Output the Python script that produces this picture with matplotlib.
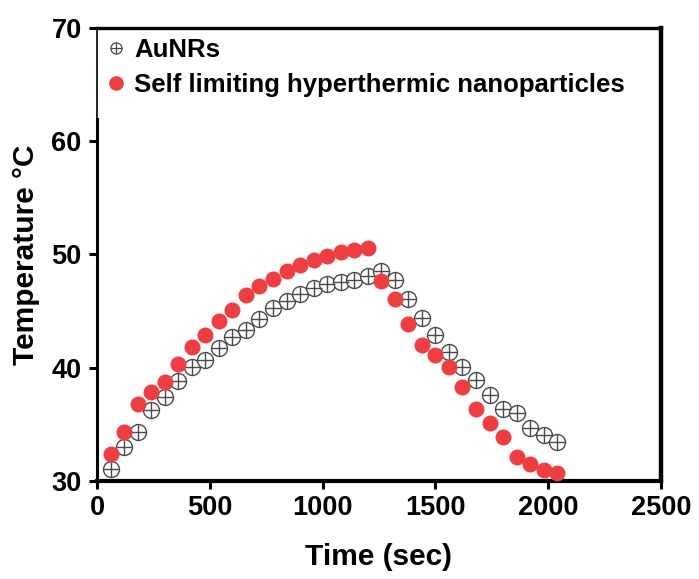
import matplotlib
matplotlib.use('Agg')
import matplotlib.pyplot as plt
from matplotlib.legend_handler import HandlerTuple
from matplotlib.lines import Line2D

plt.rcParams['font.family'] = ['Liberation Sans', 'DejaVu Sans']
plt.rcParams['font.weight'] = 'bold'

# time points (sec)
time_s = [60, 120, 180, 240, 300, 360, 420, 480, 540, 600,
          660, 720, 780, 840, 900, 960, 1020, 1080, 1140, 1200,
          1260, 1320, 1380, 1440, 1500, 1560, 1620, 1680, 1740, 1800,
          1860, 1920, 1980, 2040]

aunr_temp = [31.1, 33.0, 34.3, 36.3, 37.4, 38.8, 40.1, 40.7, 41.7, 42.7,
             43.3, 44.3, 45.3, 45.9, 46.5, 47.0, 47.4, 47.6, 47.75, 48.1,
             48.5, 47.75, 46.1, 44.4, 42.9, 41.4, 40.1, 38.9, 37.6, 36.4,
             36.0, 34.65, 34.1, 33.4]

self_temp = [32.4, 34.3, 36.8, 37.9, 38.7, 40.3, 41.8, 42.9, 44.1, 45.1,
             46.4, 47.2, 47.8, 48.5, 49.1, 49.5, 49.9, 50.2, 50.4, 50.6,
             47.7, 46.1, 43.9, 42.0, 41.1, 40.1, 38.3, 36.4, 35.15, 33.85,
             32.15, 31.5, 31.0, 30.7]

labels = ['AuNRs', 'Self limiting hyperthermic nanoparticles']
x_ticks = [0, 500, 1000, 1500, 2000, 2500]
y_ticks = [30, 40, 50, 60, 70]

red = '#ef3e42'
grey = '#4a4a4a'

fig = plt.figure(figsize=(6.99, 5.79), dpi=100)
ax = fig.add_axes([0.1388, 0.1693, 0.8068, 0.7823])

# AuNRs: open circle with a cross inside
ax.plot(time_s, aunr_temp, 'o', ms=11.5, mfc='white', mec=grey, mew=1.0, zorder=3, clip_on=False)
ax.plot(time_s, aunr_temp, '+', ms=11.5, mec=grey, mew=1.0, zorder=3, clip_on=False)
ax.plot(time_s, self_temp, 'o', ms=10.5, color=red, mec=red, zorder=4, clip_on=False)

ax.set_xlim(0, 2500)
ax.set_ylim(30, 70)
ax.set_xticks(x_ticks)
ax.set_yticks(y_ticks)
ax.tick_params(direction='out', length=6, width=2.2, labelsize=19.5, pad=4)
ax.tick_params(axis='y', pad=5)
for lab in ax.get_xticklabels() + ax.get_yticklabels():
    lab.set_fontweight('bold')

ax.spines['left'].set_linewidth(2.2)
ax.spines['left'].set_bounds(30, 62)
ax.axvline(0, ymin=0.8, ymax=1, color='k', lw=1.2, clip_on=False)
ax.spines['bottom'].set_linewidth(3)
ax.spines['right'].set_linewidth(3.2)
ax.spines['top'].set_linewidth(2.4)

ax.set_xlabel('Time (sec)', fontsize=21.5, fontweight='bold', labelpad=16)
ax.set_ylabel('Temperature °C', fontsize=21.5, fontweight='bold', labelpad=8)

h1 = (Line2D([], [], ls='', marker='o', ms=8, mfc='white', mec=grey, mew=0.9),
      Line2D([], [], ls='', marker='+', ms=8, mec=grey, mew=0.9))
h2 = Line2D([], [], ls='', marker='o', ms=9.5, color=red)
ax.legend([h1, h2], labels, loc='upper left', bbox_to_anchor=(0.0, 1.0),
          frameon=False, handlelength=0.7, handletextpad=0.35,
          labelspacing=0.4, borderpad=0.4, borderaxespad=0.0,
          handler_map={tuple: HandlerTuple(ndivide=1)},
          prop={'weight': 'bold', 'size': 18.5})

fig.savefig('out.png', dpi=100)
